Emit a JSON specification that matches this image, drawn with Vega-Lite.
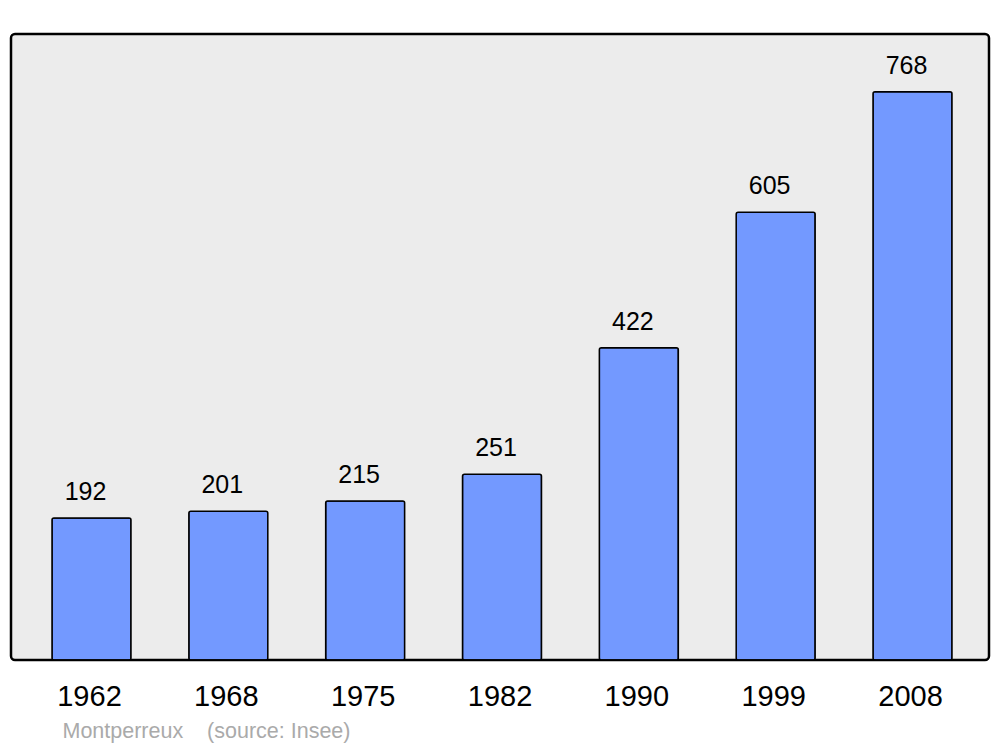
{
  "$schema": "https://vega.github.io/schema/vega-lite/v6.json",
  "width": 978,
  "height": 626,
  "autosize": {"type": "none"},
  "padding": {"left": 11, "top": 34, "right": 11, "bottom": 87},
  "background": "white",
  "config": {
    "view": {"fill": "#ececec", "stroke": "black", "strokeWidth": 2.5, "cornerRadius": 4},
    "font": "Liberation Sans"
  },
  "data": {
    "values": [
      {"year": "1962", "pop": 192},
      {"year": "1968", "pop": 201},
      {"year": "1975", "pop": 215},
      {"year": "1982", "pop": 251},
      {"year": "1990", "pop": 422},
      {"year": "1999", "pop": 605},
      {"year": "2008", "pop": 768}
    ]
  },
  "encoding": {
    "x": {
      "field": "year",
      "type": "nominal",
      "sort": null,
      "scale": {"paddingInner": 0.4227, "paddingOuter": 0.285, "range": [2, 980]},
      "axis": {
        "title": "Montperreux\u00a0\u00a0\u00a0\u00a0(source: Insee)",
        "titleFont": "Liberation Sans",
        "titleFontSize": 21.5,
        "titleFontWeight": "normal",
        "titleColor": "#aaaaaa",
        "titleAnchor": "start",
        "titleAlign": "left",
        "titleBaseline": "alphabetic",
        "titleX": 51,
        "titleY": 77,
        "labelAngle": 0,
        "labelFontSize": 29,
        "labelColor": "black",
        "labelFont": "Liberation Sans",
        "labelBaseline": "alphabetic",
        "labelPadding": 45,
        "labelOffset": -2,
        "ticks": false,
        "domain": false,
        "grid": false
      }
    },
    "y": {
      "field": "pop",
      "type": "quantitative",
      "scale": {"domain": [0, 846], "nice": false, "zero": true},
      "axis": null
    }
  },
  "layer": [
    {
      "mark": {"type": "bar", "fill": "#7399ff", "stroke": "black", "strokeWidth": 1.5, "cornerRadius": 2}
    },
    {
      "mark": {"type": "text", "fontSize": 25, "color": "black", "baseline": "alphabetic", "dy": -18, "dx": -6, "font": "Liberation Sans"},
      "encoding": {"text": {"field": "pop", "type": "quantitative"}}
    }
  ]
}
